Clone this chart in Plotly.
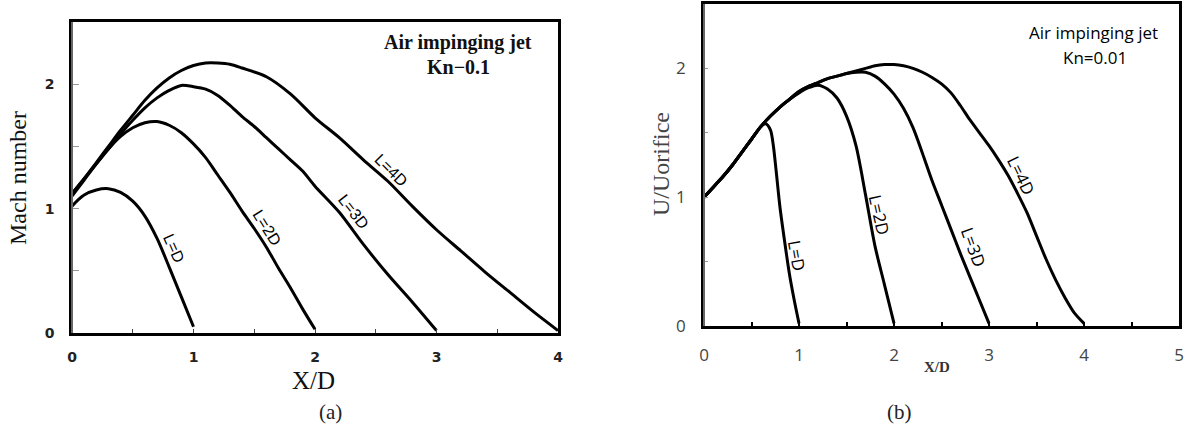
import plotly.graph_objects as go

W, H = 1186, 428

# ---------------- data: panel (a) Kn=0.1, Mach number ----------------
a_LD_x = [0, 0.05, 0.1, 0.2, 0.3, 0.4, 0.5, 0.6, 0.7, 0.8, 0.9, 1.0]
a_LD_y = [1.02, 1.07, 1.11, 1.15, 1.16, 1.13, 1.06, 0.94, 0.76, 0.53, 0.29, 0.05]

a_L2D_x = [0, 0.1, 0.2, 0.3, 0.4, 0.5, 0.6, 0.7, 0.8, 0.9, 1.0, 1.1, 1.2, 1.3, 1.4, 1.5, 1.6, 1.7, 1.8, 1.9, 2.0]
a_L2D_y = [1.10, 1.23, 1.36, 1.48, 1.58, 1.65, 1.69, 1.70, 1.67, 1.61, 1.52, 1.41, 1.27, 1.13, 0.98, 0.84, 0.69, 0.52, 0.36, 0.19, 0.03]

a_L3D_x = [0, 0.1, 0.2, 0.3, 0.4, 0.5, 0.6, 0.7, 0.8, 0.9, 1.0, 1.1, 1.2, 1.3, 1.4, 1.5, 1.6, 1.7, 1.8, 1.9, 2.0, 2.2, 2.4, 2.6, 2.8, 3.0]
a_L3D_y = [1.12, 1.24, 1.36, 1.48, 1.60, 1.71, 1.81, 1.89, 1.95, 1.99, 1.98, 1.96, 1.91, 1.83, 1.74, 1.66, 1.57, 1.48, 1.39, 1.30, 1.18, 0.97, 0.71, 0.47, 0.25, 0.02]

a_L4D_x = [0, 0.1, 0.2, 0.3, 0.4, 0.5, 0.6, 0.7, 0.8, 0.9, 1.0, 1.1, 1.2, 1.3, 1.4, 1.6, 1.8, 2.0, 2.2, 2.4, 2.6, 2.8, 3.0, 3.2, 3.4, 3.6, 3.8, 4.0]
a_L4D_y = [1.12, 1.24, 1.37, 1.50, 1.63, 1.75, 1.87, 1.97, 2.05, 2.11, 2.15, 2.17, 2.17, 2.16, 2.13, 2.06, 1.92, 1.73, 1.57, 1.39, 1.22, 1.02, 0.83, 0.66, 0.49, 0.33, 0.17, 0.02]

# ---------------- data: panel (b) Kn=0.01, U/Uorifice ----------------
b_LD_x = [0, 0.1, 0.2, 0.3, 0.4, 0.5, 0.6, 0.65, 0.7, 0.73, 0.76, 0.8, 0.85, 0.9, 0.95, 1.0]
b_LD_y = [1.00, 1.08, 1.16, 1.25, 1.35, 1.45, 1.55, 1.57, 1.52, 1.40, 1.20, 0.92, 0.65, 0.40, 0.20, 0.02]

b_L2D_x = [0, 0.1, 0.2, 0.3, 0.4, 0.5, 0.6, 0.7, 0.8, 0.9, 1.0, 1.1, 1.2, 1.3, 1.4, 1.5, 1.6, 1.7, 1.8, 1.9, 2.0]
b_L2D_y = [1.00, 1.08, 1.16, 1.25, 1.35, 1.45, 1.55, 1.63, 1.70, 1.76, 1.81, 1.85, 1.87, 1.84, 1.77, 1.63, 1.40, 1.02, 0.62, 0.32, 0.02]

b_L3D_x = [0, 0.1, 0.2, 0.3, 0.4, 0.5, 0.6, 0.7, 0.8, 0.9, 1.0, 1.1, 1.2, 1.3, 1.4, 1.5, 1.6, 1.7, 1.8, 1.9, 2.0, 2.1, 2.2, 2.3, 2.4, 2.5, 2.6, 2.7, 2.8, 2.9, 3.0]
b_L3D_y = [1.00, 1.08, 1.16, 1.25, 1.35, 1.45, 1.55, 1.63, 1.70, 1.76, 1.82, 1.86, 1.89, 1.92, 1.94, 1.96, 1.97, 1.97, 1.94, 1.88, 1.80, 1.69, 1.54, 1.34, 1.13, 0.94, 0.75, 0.56, 0.38, 0.20, 0.02]

b_L4D_x = [0, 0.1, 0.2, 0.3, 0.4, 0.5, 0.6, 0.7, 0.8, 0.9, 1.0, 1.1, 1.2, 1.3, 1.4, 1.5, 1.6, 1.7, 1.8, 1.9, 2.0, 2.1, 2.2, 2.3, 2.4, 2.5, 2.6, 2.7, 2.8, 2.9, 3.0, 3.1, 3.2, 3.3, 3.4, 3.5, 3.6, 3.7, 3.8, 3.9, 4.0]
b_L4D_y = [1.00, 1.08, 1.16, 1.25, 1.35, 1.45, 1.55, 1.63, 1.70, 1.76, 1.82, 1.86, 1.89, 1.92, 1.94, 1.96, 1.98, 2.00, 2.02, 2.03, 2.03, 2.02, 2.00, 1.97, 1.93, 1.88, 1.81, 1.71, 1.60, 1.50, 1.40, 1.29, 1.17, 1.03, 0.88, 0.70, 0.52, 0.36, 0.22, 0.10, 0.02]

curve_labels = ["L=D", "L=2D", "L=3D", "L=4D"]

# ---------------- layout helpers (pixel -> paper) ----------------
def px(x):
    return x / W

def py(y):
    return 1 - y / H

A_L, A_R, A_T, A_B = 72, 558, 22, 333
B_L, B_R, B_T, B_B = 704, 1179, 4, 326

fig = go.Figure()

for xs, ys in [(a_LD_x, a_LD_y), (a_L2D_x, a_L2D_y), (a_L3D_x, a_L3D_y), (a_L4D_x, a_L4D_y)]:
    fig.add_trace(go.Scatter(x=xs, y=ys, mode="lines", line=dict(color="black", width=3, shape="spline", smoothing=0.8),
                             xaxis="x", yaxis="y", showlegend=False, hoverinfo="skip"))
for xs, ys in [(b_LD_x, b_LD_y), (b_L2D_x, b_L2D_y), (b_L3D_x, b_L3D_y), (b_L4D_x, b_L4D_y)]:
    fig.add_trace(go.Scatter(x=xs, y=ys, mode="lines", line=dict(color="black", width=3, shape="spline", smoothing=0.8),
                             xaxis="x2", yaxis="y2", showlegend=False, hoverinfo="skip"))

annotations = []

def ann(x, y, text, font, xref="paper", yref="paper", angle=0):
    return dict(x=x, y=y, xref=xref, yref=yref, text=text, showarrow=False, textangle=angle,
                xanchor="center", yanchor="middle", font=font)

# curve labels panel (a)
a_lab_pos = [(0.84, 0.68, 66), (1.605, 0.85, 58), (2.315, 0.975, 52), (2.63, 1.31, 45)]
for t, (x, y, ang) in zip(curve_labels, a_lab_pos):
    annotations.append(ann(x, y, t, dict(family="Liberation Sans", size=16, color="black"), "x", "y", ang))
# curve labels panel (b)
b_lab_pos = [(0.98, 0.55, 80), (1.85, 0.86, 77), (2.84, 0.61, 70), (3.34, 1.17, 64)]
for t, (x, y, ang) in zip(curve_labels, b_lab_pos):
    annotations.append(ann(x, y, t, dict(family="Open Sans", size=17, color="black"), "x2", "y2", ang))

serif = "Liberation Serif"
# panel (a) texts
annotations += [
    ann(px(458), py(43), "<b>Air impinging jet</b>", dict(family=serif, size=20, color="#111")),
    ann(px(458), py(67), "<b>Kn\u22120.1</b>", dict(family=serif, size=20, color="#111")),
    ann(px(18), py(178), "Mach number", dict(family=serif, size=24, color="#111"), angle=-90),
    ann(px(313), py(380), "X/D", dict(family=serif, size=25, color="#111")),
    ann(px(330), py(412), "(a)", dict(family=serif, size=21, color="#222")),
]
# panel (b) texts
annotations += [
    ann(px(1093), py(32), "Air impinging jet", dict(family="Open Sans", size=17, color="#000")),
    ann(px(1095), py(58), "Kn=0.01", dict(family="Open Sans", size=17, color="#000")),
    ann(px(661), py(164), "U/Uorifice", dict(family=serif, size=24, color="#444"), angle=-90),
    ann(px(937), py(367), "<b>X/D</b>", dict(family=serif, size=15, color="#333")),
    ann(px(899), py(412), "(b)", dict(family=serif, size=21, color="#222")),
]

shapes = [
    dict(type="line", xref="paper", yref="paper", x0=px(A_L), x1=px(A_L), y0=py(A_T), y1=py(A_B),
         line=dict(color="#666", width=2)),
    dict(type="line", xref="paper", yref="paper", x0=px(B_L), x1=px(B_L), y0=py(B_T), y1=py(B_B),
         line=dict(color="#666", width=2)),
]

fig.update_layout(
    width=W, height=H, autosize=False, margin=dict(l=0, r=0, t=0, b=0, pad=0),
    paper_bgcolor="white", plot_bgcolor="white", showlegend=False,
    annotations=annotations, shapes=shapes,
    xaxis=dict(domain=[px(A_L), px(A_R)], range=[0, 4], anchor="y", dtick=1, showgrid=False, zeroline=False,
               showline=True, mirror=True, linecolor="black", linewidth=2.5, automargin=False,
               ticks="inside", ticklen=4, tickcolor="#444", tickwidth=1,
               minor=dict(dtick=0.5, ticks="inside", ticklen=4, tickcolor="#444", tickwidth=1, showgrid=False),
               tickfont=dict(family="DejaVu Sans", size=14, color="#222", weight="bold"), ticklabelstandoff=9),
    yaxis=dict(domain=[py(A_B), py(A_T)], range=[0, 2.5], anchor="x", dtick=1, showgrid=False, zeroline=False,
               showline=True, mirror=True, linecolor="black", linewidth=2.5, automargin=False,
               ticks="inside", ticklen=7, tickcolor="#999", tickwidth=1,
               minor=dict(dtick=0.5, ticks="inside", ticklen=7, tickcolor="#999", tickwidth=1, showgrid=False),
               tickfont=dict(family="DejaVu Sans", size=14, color="#222", weight="bold"), ticklabelstandoff=12),
    xaxis2=dict(domain=[px(B_L), px(B_R)], range=[0, 5], anchor="y2", dtick=1, showgrid=False, zeroline=False,
                showline=True, mirror=True, linecolor="black", linewidth=2.5, automargin=False,
                ticks="inside", ticklen=4, tickcolor="black", tickwidth=2,
                minor=dict(dtick=0.5, ticks="inside", ticklen=4, tickcolor="black", tickwidth=2, showgrid=False),
                tickfont=dict(family="Open Sans", size=17, color="#444"), ticklabelstandoff=12),
    yaxis2=dict(domain=[py(B_B), py(B_T)], range=[0, 2.5], anchor="x2", dtick=1, showgrid=False, zeroline=False,
                showline=True, mirror=True, linecolor="black", linewidth=2.5, automargin=False,
                ticks="inside", ticklen=4, tickcolor="#999", tickwidth=1,
                minor=dict(dtick=0.5, ticks="inside", ticklen=4, tickcolor="#999", tickwidth=1, showgrid=False),
                tickfont=dict(family="Open Sans", size=17, color="#444"), ticklabelstandoff=12),
)

fig.write_html("out.html")
